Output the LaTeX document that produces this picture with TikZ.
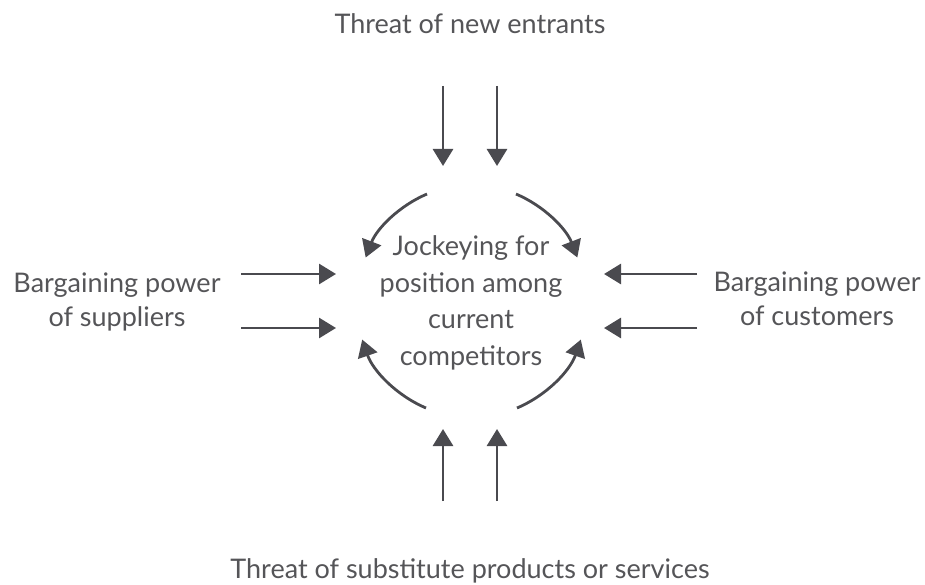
\documentclass[tikz,border=0pt]{standalone}
\usepackage{fontspec}
\setmainfont{Lato}
\usetikzlibrary{arrows.meta}
\definecolor{ink}{HTML}{4A4A4F}
\definecolor{txt}{HTML}{555558}
\tikzset{
  lbl/.style={text=txt, font=\fontsize{27}{34}\selectfont, align=center, inner sep=0pt},
  midlbl/.style={lbl, font=\fontsize{27}{36.7}\selectfont},
  arr/.style={draw=ink, line width=2.8pt, -{Triangle[width=20pt,length=17pt]}},
}
\begin{document}
\begin{tikzpicture}[x=1pt,y=-1pt]
\useasboundingbox (0,0) rectangle (925,585);
\node[lbl, anchor=base] (top) at (470,34) {Threat of new entrants};
\node[lbl, anchor=base] (bot) at (470,578) {Threat of substitute products or services};
\node[lbl] (left) at (117,301.5) {Bargaining power\\of suppliers};
\node[lbl] (right) at (817,299) {Bargaining power\\of customers};
\node[midlbl] (mid) at (471,303) {Jockeying for\\position among\\current\\competitors};
% vertical arrows
\coordinate (t1s) at (443,86); \coordinate (t1e) at (443,166);
\coordinate (t2s) at (497,86); \coordinate (t2e) at (497,166);
\coordinate (b1s) at (443,501); \coordinate (b1e) at (443,429);
\coordinate (b2s) at (497,501); \coordinate (b2e) at (497,429);
\draw[arr] (t1s) -- (t1e);
\draw[arr] (t2s) -- (t2e);
\draw[arr] (b1s) -- (b1e);
\draw[arr] (b2s) -- (b2e);
% horizontal arrows
\coordinate (l1s) at (241,274); \coordinate (l1e) at (336,274);
\coordinate (l2s) at (241,328); \coordinate (l2e) at (336,328);
\coordinate (r1s) at (697,274); \coordinate (r1e) at (604,274);
\coordinate (r2s) at (697,328); \coordinate (r2e) at (604,328);
\draw[arr] (l1s) -- (l1e);
\draw[arr] (l2s) -- (l2e);
\draw[arr] (r1s) -- (r1e);
\draw[arr] (r2s) -- (r2e);
% circular arrows around the centre
\coordinate (a1) at (427,194); \coordinate (a2) at (516,194);
\coordinate (a3) at (426,408); \coordinate (a4) at (517,408);
\draw[arr] (a1) arc[start angle=-113, end angle=-159, radius=113];
\draw[arr] (a2) arc[start angle=-67, end angle=-21, radius=113];
\draw[arr] (a3) arc[start angle=113, end angle=161, radius=115];
\draw[arr] (a4) arc[start angle=67, end angle=19, radius=115];
\end{tikzpicture}
\end{document}
